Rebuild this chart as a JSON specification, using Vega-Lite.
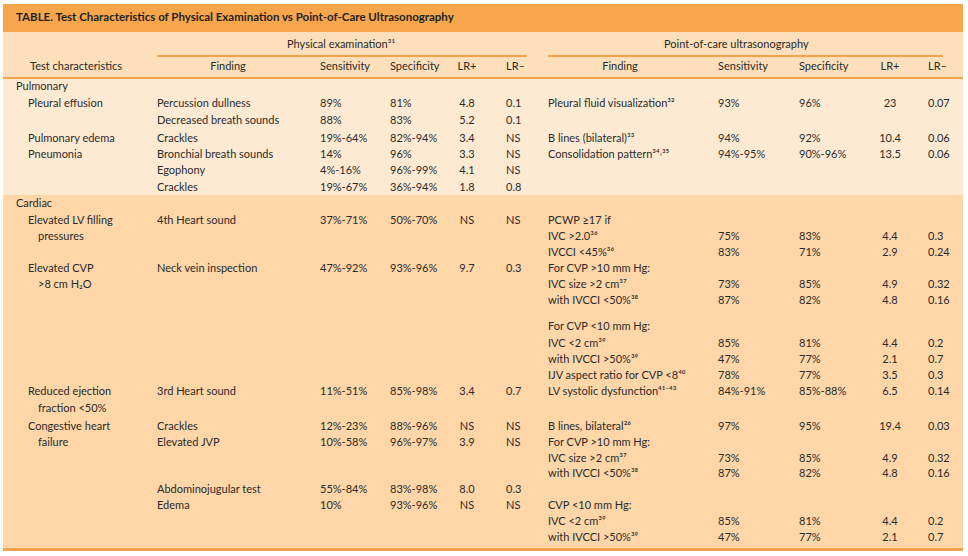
{
  "$schema": "https://vega.github.io/schema/vega-lite/v6.json",
  "width": 968,
  "height": 556,
  "autosize": {"type": "none"},
  "padding": 0,
  "background": "white",
  "config": {"view": {"stroke": null}, "text": {"font": "Lato", "fontSize": 11, "color": "#2a2a2a", "baseline": "middle"}},
  "datasets": {
    "bands": [
      {"k": "title", "c": 0, "c2": 21, "r": -5.09, "r2": -3.37},
      {"k": "header", "c": 0, "c2": 21, "r": -3.37, "r2": -0.61},
      {"k": "rule", "c": 0, "c2": 21, "r": -0.61, "r2": -0.47},
      {"k": "pulmonary", "c": 0, "c2": 21, "r": -0.47, "r2": 6.63},
      {"k": "cardiac", "c": 0, "c2": 21, "r": 6.63, "r2": 28.28},
      {"k": "rule", "c": 0, "c2": 21, "r": 28.28, "r2": 28.46}
    ],
    "lines": [
      {"c": 5, "c2": 12, "r": -1.9},
      {"c": 13, "c2": 20, "r": -1.9}
    ],
    "title": [
      {"c": 1, "r": -4.23, "t": "TABLE.  Test Characteristics of Physical Examination vs Point-of-Care Ultrasonography"}
    ],
    "cells": [
      {"r": -2.58, "c": 7, "t": "Physical examination³¹"},
      {"r": -2.58, "c": 15, "t": "Point-of-care ultrasonography"},
      {"r": -1.23, "c": 4, "t": "Test characteristics"},
      {"r": -1.23, "c": 6, "t": "Finding"},
      {"r": -1.23, "c": 8, "t": "Sensitivity"},
      {"r": -1.23, "c": 9, "t": "Specificity"},
      {"r": -1.23, "c": 10, "t": "LR+"},
      {"r": -1.23, "c": 11, "t": "LR–"},
      {"r": -1.23, "c": 14, "t": "Finding"},
      {"r": -1.23, "c": 16, "t": "Sensitivity"},
      {"r": -1.23, "c": 17, "t": "Specificity"},
      {"r": -1.23, "c": 18, "t": "LR+"},
      {"r": -1.23, "c": 19, "t": "LR–"},

      {"r": 0, "c": 1, "t": "Pulmonary"},
      {"r": 1.05, "c": 2, "t": "Pleural effusion"},
      {"r": 1.05, "c": 5, "t": "Percussion dullness"},
      {"r": 1.05, "c": 8, "t": "89%"},
      {"r": 1.05, "c": 9, "t": "81%"},
      {"r": 1.05, "c": 10, "t": "4.8"},
      {"r": 1.05, "c": 11, "t": "0.1"},
      {"r": 1.05, "c": 13, "t": "Pleural fluid visualization³²"},
      {"r": 1.05, "c": 16, "t": "93%"},
      {"r": 1.05, "c": 17, "t": "96%"},
      {"r": 1.05, "c": 18, "t": "23"},
      {"r": 1.05, "c": 19, "t": "0.07"},
      {"r": 2.1, "c": 5, "t": "Decreased breath sounds"},
      {"r": 2.1, "c": 8, "t": "88%"},
      {"r": 2.1, "c": 9, "t": "83%"},
      {"r": 2.1, "c": 10, "t": "5.2"},
      {"r": 2.1, "c": 11, "t": "0.1"},
      {"r": 3.2, "c": 2, "t": "Pulmonary edema"},
      {"r": 3.2, "c": 5, "t": "Crackles"},
      {"r": 3.2, "c": 8, "t": "19%-64%"},
      {"r": 3.2, "c": 9, "t": "82%-94%"},
      {"r": 3.2, "c": 10, "t": "3.4"},
      {"r": 3.2, "c": 11, "t": "NS"},
      {"r": 3.2, "c": 13, "t": "B lines (bilateral)³³"},
      {"r": 3.2, "c": 16, "t": "94%"},
      {"r": 3.2, "c": 17, "t": "92%"},
      {"r": 3.2, "c": 18, "t": "10.4"},
      {"r": 3.2, "c": 19, "t": "0.06"},
      {"r": 4.15, "c": 2, "t": "Pneumonia"},
      {"r": 4.15, "c": 5, "t": "Bronchial breath sounds"},
      {"r": 4.15, "c": 8, "t": "14%"},
      {"r": 4.15, "c": 9, "t": "96%"},
      {"r": 4.15, "c": 10, "t": "3.3"},
      {"r": 4.15, "c": 11, "t": "NS"},
      {"r": 4.15, "c": 13, "t": "Consolidation pattern³⁴˒³⁵"},
      {"r": 4.15, "c": 16, "t": "94%-95%"},
      {"r": 4.15, "c": 17, "t": "90%-96%"},
      {"r": 4.15, "c": 18, "t": "13.5"},
      {"r": 4.15, "c": 19, "t": "0.06"},
      {"r": 5.15, "c": 5, "t": "Egophony"},
      {"r": 5.15, "c": 8, "t": "4%-16%"},
      {"r": 5.15, "c": 9, "t": "96%-99%"},
      {"r": 5.15, "c": 10, "t": "4.1"},
      {"r": 5.15, "c": 11, "t": "NS"},
      {"r": 6.2, "c": 5, "t": "Crackles"},
      {"r": 6.2, "c": 8, "t": "19%-67%"},
      {"r": 6.2, "c": 9, "t": "36%-94%"},
      {"r": 6.2, "c": 10, "t": "1.8"},
      {"r": 6.2, "c": 11, "t": "0.8"},

      {"r": 7.2, "c": 1, "t": "Cardiac"},
      {"r": 8.2, "c": 2, "t": "Elevated LV filling"},
      {"r": 8.2, "c": 5, "t": "4th Heart sound"},
      {"r": 8.2, "c": 8, "t": "37%-71%"},
      {"r": 8.2, "c": 9, "t": "50%-70%"},
      {"r": 8.2, "c": 10, "t": "NS"},
      {"r": 8.2, "c": 11, "t": "NS"},
      {"r": 8.2, "c": 13, "t": "PCWP ≥17 if"},
      {"r": 9.2, "c": 3, "t": "pressures"},
      {"r": 9.2, "c": 13, "t": "IVC >2.0³⁶"},
      {"r": 9.2, "c": 16, "t": "75%"},
      {"r": 9.2, "c": 17, "t": "83%"},
      {"r": 9.2, "c": 18, "t": "4.4"},
      {"r": 9.2, "c": 19, "t": "0.3"},
      {"r": 10.2, "c": 13, "t": "IVCCI <45%³⁶"},
      {"r": 10.2, "c": 16, "t": "83%"},
      {"r": 10.2, "c": 17, "t": "71%"},
      {"r": 10.2, "c": 18, "t": "2.9"},
      {"r": 10.2, "c": 19, "t": "0.24"},
      {"r": 11.15, "c": 2, "t": "Elevated CVP"},
      {"r": 11.15, "c": 5, "t": "Neck vein inspection"},
      {"r": 11.15, "c": 8, "t": "47%-92%"},
      {"r": 11.15, "c": 9, "t": "93%-96%"},
      {"r": 11.15, "c": 10, "t": "9.7"},
      {"r": 11.15, "c": 11, "t": "0.3"},
      {"r": 11.15, "c": 13, "t": "For CVP >10 mm Hg:"},
      {"r": 12.15, "c": 3, "t": ">8 cm H₂O"},
      {"r": 12.15, "c": 13, "t": "IVC size >2 cm³⁷"},
      {"r": 12.15, "c": 16, "t": "73%"},
      {"r": 12.15, "c": 17, "t": "85%"},
      {"r": 12.15, "c": 18, "t": "4.9"},
      {"r": 12.15, "c": 19, "t": "0.32"},
      {"r": 13.1, "c": 13, "t": "with IVCCI <50%³⁸"},
      {"r": 13.1, "c": 16, "t": "87%"},
      {"r": 13.1, "c": 17, "t": "82%"},
      {"r": 13.1, "c": 18, "t": "4.8"},
      {"r": 13.1, "c": 19, "t": "0.16"},
      {"r": 14.7, "c": 13, "t": "For CVP <10 mm Hg:"},
      {"r": 15.75, "c": 13, "t": "IVC <2 cm³⁹"},
      {"r": 15.75, "c": 16, "t": "85%"},
      {"r": 15.75, "c": 17, "t": "81%"},
      {"r": 15.75, "c": 18, "t": "4.4"},
      {"r": 15.75, "c": 19, "t": "0.2"},
      {"r": 16.75, "c": 13, "t": "with IVCCI >50%³⁹"},
      {"r": 16.75, "c": 16, "t": "47%"},
      {"r": 16.75, "c": 17, "t": "77%"},
      {"r": 16.75, "c": 18, "t": "2.1"},
      {"r": 16.75, "c": 19, "t": "0.7"},
      {"r": 17.75, "c": 13, "t": "IJV aspect ratio for CVP <8⁴⁰"},
      {"r": 17.75, "c": 16, "t": "78%"},
      {"r": 17.75, "c": 17, "t": "77%"},
      {"r": 17.75, "c": 18, "t": "3.5"},
      {"r": 17.75, "c": 19, "t": "0.3"},
      {"r": 18.7, "c": 2, "t": "Reduced ejection"},
      {"r": 18.7, "c": 5, "t": "3rd Heart sound"},
      {"r": 18.7, "c": 8, "t": "11%-51%"},
      {"r": 18.7, "c": 9, "t": "85%-98%"},
      {"r": 18.7, "c": 10, "t": "3.4"},
      {"r": 18.7, "c": 11, "t": "0.7"},
      {"r": 18.7, "c": 13, "t": "LV systolic dysfunction⁴¹⁻⁴³"},
      {"r": 18.7, "c": 16, "t": "84%-91%"},
      {"r": 18.7, "c": 17, "t": "85%-88%"},
      {"r": 18.7, "c": 18, "t": "6.5"},
      {"r": 18.7, "c": 19, "t": "0.14"},
      {"r": 19.75, "c": 3, "t": "fraction <50%"},
      {"r": 20.85, "c": 2, "t": "Congestive heart"},
      {"r": 20.85, "c": 5, "t": "Crackles"},
      {"r": 20.85, "c": 8, "t": "12%-23%"},
      {"r": 20.85, "c": 9, "t": "88%-96%"},
      {"r": 20.85, "c": 10, "t": "NS"},
      {"r": 20.85, "c": 11, "t": "NS"},
      {"r": 20.85, "c": 13, "t": "B lines, bilateral²⁶"},
      {"r": 20.85, "c": 16, "t": "97%"},
      {"r": 20.85, "c": 17, "t": "95%"},
      {"r": 20.85, "c": 18, "t": "19.4"},
      {"r": 20.85, "c": 19, "t": "0.03"},
      {"r": 21.85, "c": 3, "t": "failure"},
      {"r": 21.85, "c": 5, "t": "Elevated JVP"},
      {"r": 21.85, "c": 8, "t": "10%-58%"},
      {"r": 21.85, "c": 9, "t": "96%-97%"},
      {"r": 21.85, "c": 10, "t": "3.9"},
      {"r": 21.85, "c": 11, "t": "NS"},
      {"r": 21.85, "c": 13, "t": "For CVP >10 mm Hg:"},
      {"r": 22.8, "c": 13, "t": "IVC size >2 cm³⁷"},
      {"r": 22.8, "c": 16, "t": "73%"},
      {"r": 22.8, "c": 17, "t": "85%"},
      {"r": 22.8, "c": 18, "t": "4.9"},
      {"r": 22.8, "c": 19, "t": "0.32"},
      {"r": 23.75, "c": 13, "t": "with IVCCI <50%³⁸"},
      {"r": 23.75, "c": 16, "t": "87%"},
      {"r": 23.75, "c": 17, "t": "82%"},
      {"r": 23.75, "c": 18, "t": "4.8"},
      {"r": 23.75, "c": 19, "t": "0.16"},
      {"r": 24.7, "c": 5, "t": "Abdominojugular test"},
      {"r": 24.7, "c": 8, "t": "55%-84%"},
      {"r": 24.7, "c": 9, "t": "83%-98%"},
      {"r": 24.7, "c": 10, "t": "8.0"},
      {"r": 24.7, "c": 11, "t": "0.3"},
      {"r": 25.7, "c": 5, "t": "Edema"},
      {"r": 25.7, "c": 8, "t": "10%"},
      {"r": 25.7, "c": 9, "t": "93%-96%"},
      {"r": 25.7, "c": 10, "t": "NS"},
      {"r": 25.7, "c": 11, "t": "NS"},
      {"r": 25.7, "c": 13, "t": "CVP <10 mm Hg:"},
      {"r": 26.7, "c": 13, "t": "IVC <2 cm³⁹"},
      {"r": 26.7, "c": 16, "t": "85%"},
      {"r": 26.7, "c": 17, "t": "81%"},
      {"r": 26.7, "c": 18, "t": "4.4"},
      {"r": 26.7, "c": 19, "t": "0.2"},
      {"r": 27.65, "c": 13, "t": "with IVCCI >50%³⁹"},
      {"r": 27.65, "c": 16, "t": "47%"},
      {"r": 27.65, "c": 17, "t": "77%"},
      {"r": 27.65, "c": 18, "t": "2.1"},
      {"r": 27.65, "c": 19, "t": "0.7"}
    ]
  },
  "layer": [
    {
      "data": {"name": "bands"},
      "mark": {"type": "rect"},
      "encoding": {
        "x": {"field": "c", "type": "quantitative", "axis": null, "scale": {"domain": [0,1,2,3,4,5,6,7,8,9,10,11,12,13,14,15,16,17,18,19,20,21], "range": [3,16,28,38,76,157,228,287,320,390,467,506,527,548,620,664,718,799,890,928,943,963], "nice": false, "zero": false}},
        "x2": {"field": "c2"},
        "y": {"field": "r", "type": "quantitative", "axis": null, "scale": {"domain": [-5.337, 28.773], "range": [0, 556], "nice": false, "zero": false}},
        "y2": {"field": "r2"},
        "color": {"field": "k", "type": "nominal", "legend": null, "scale": {"domain": ["title", "header", "rule", "pulmonary", "cardiac"], "range": ["#F8A64C", "#FDDFBB", "#F6A24B", "#FEEAD3", "#FED6A8"]}}
      }
    },
    {
      "data": {"name": "lines"},
      "mark": {"type": "rule", "color": "#F6A24B", "strokeWidth": 2},
      "encoding": {
        "x": {"field": "c", "type": "quantitative"},
        "x2": {"field": "c2"},
        "y": {"field": "r", "type": "quantitative"}
      }
    },
    {
      "data": {"name": "title"},
      "mark": {"type": "text", "align": "left", "fontWeight": "bold", "fontSize": 11.5, "color": "#231F20"},
      "encoding": {
        "x": {"field": "c", "type": "quantitative"},
        "y": {"field": "r", "type": "quantitative"},
        "text": {"field": "t"}
      }
    },
    {
      "data": {"name": "cells"},
      "transform": [{"filter": "indexof([4,6,10,14,18], datum.c) < 0"}],
      "mark": {"type": "text", "align": "left"},
      "encoding": {
        "x": {"field": "c", "type": "quantitative"},
        "y": {"field": "r", "type": "quantitative"},
        "text": {"field": "t"}
      }
    },
    {
      "data": {"name": "cells"},
      "transform": [{"filter": "indexof([4,6,10,14,18], datum.c) >= 0"}],
      "mark": {"type": "text", "align": "center"},
      "encoding": {
        "x": {"field": "c", "type": "quantitative"},
        "y": {"field": "r", "type": "quantitative"},
        "text": {"field": "t"}
      }
    }
  ]
}
